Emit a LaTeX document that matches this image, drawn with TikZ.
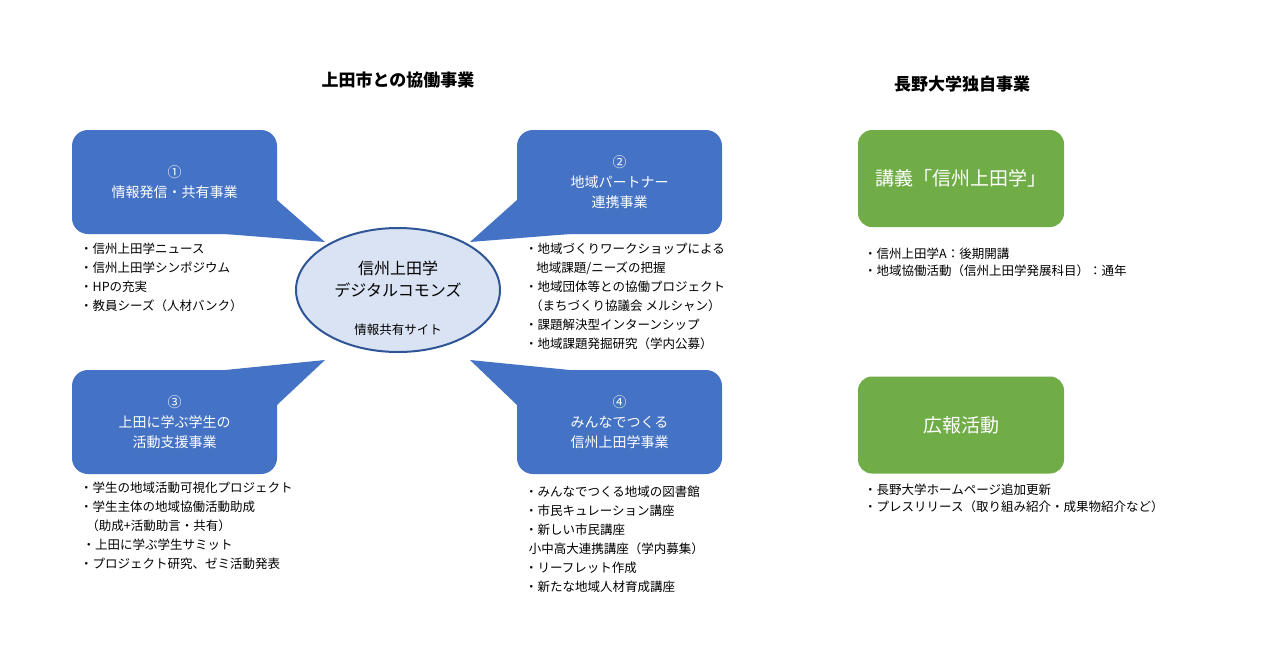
\documentclass[tikz,border=0pt]{standalone}
\usepackage{fontspec}
\setmainfont{Noto Sans CJK JP}
\usetikzlibrary{shapes.geometric}
\definecolor{bbox}{HTML}{4472C4}
\definecolor{gbox}{HTML}{70AD47}
\definecolor{ellf}{HTML}{DAE3F3}
\definecolor{elld}{HTML}{2F5597}
\tikzset{x=1pt,y=-1pt,
 bluebox/.style={fill=bbox,draw=none,rounded corners=16pt,minimum width=205pt,minimum height=104pt,text=white,align=center,font=\fontsize{14}{20}\selectfont},
 greenbox/.style={fill=gbox,draw=none,rounded corners=14pt,minimum width=206pt,minimum height=97pt,text=white,align=center,font=\fontsize{19}{24}\selectfont},
 lst/.style={anchor=north west,align=left,inner sep=0pt,font=\fontsize{12.5}{19}\selectfont},
 ttl/.style={font=\fontsize{17}{20}\bfseries\selectfont}}
\begin{document}
\begin{tikzpicture}
\useasboundingbox (0,0) rectangle (1280,670);
\fill[white] (0,0) rectangle (1280,670);
\node[ttl] (t1) at (398,80) {上田市との協働事業};
\node[ttl] (t2) at (962,84) {長野大学独自事業};
% tails
\fill[bbox] (225,234) -- (277,200) -- (325,242) -- cycle;
\fill[bbox] (517,200) -- (570,234) -- (470,242) -- cycle;
\fill[bbox] (225,370) -- (277,405) -- (325,360) -- cycle;
\fill[bbox] (517,405) -- (570,370) -- (470,360) -- cycle;
\node[bluebox] (b1) at (174.5,182) {①\\情報発信・共有事業};
\node[bluebox] (b2) at (619.5,182) {②\\地域パートナー\\連携事業};
\node[bluebox] (b3) at (174.5,422) {③\\上田に学ぶ学生の\\活動支援事業};
\node[bluebox] (b4) at (619.5,422) {④\\みんなでつくる\\信州上田学事業};
\node[ellipse,fill=ellf,draw=elld,line width=2pt,minimum width=204pt,minimum height=124pt] (c) at (398,290) {};
\node[font=\fontsize{16}{22}\selectfont,align=center] (c1) at (398,279) {信州上田学\\デジタルコモンズ};
\node[font=\fontsize{12.5}{16}\selectfont] (c2) at (398,330) {情報共有サイト};
\node[greenbox] (g1) at (961,178.5) {講義「信州上田学」};
\node[greenbox] (g2) at (961,425) {広報活動};
\node[lst] (l1) at (80,243) {・信州上田学ニュース\\・信州上田学シンポジウム\\・HPの充実\\・教員シーズ（人材バンク）};
\node[lst] (l2) at (525,243) {・地域づくりワークショップによる\\\hspace{0.9em}地域課題/ニーズの把握\\・地域団体等との協働プロジェクト\\\hspace{0.4em}（まちづくり協議会~メルシャン）\\・課題解決型インターンシップ\\・地域課題発掘研究（学内公募）};
\node[lst] (l3) at (80,482) {・学生の地域活動可視化プロジェクト\\・学生主体の地域協働活動助成\\\hspace{0.5em}（助成+活動助言・共有）\\\hspace{0.2em}・上田に学ぶ学生サミット\\・プロジェクト研究、ゼミ活動発表};
\node[lst] (l4) at (525,486) {・みんなでつくる地域の図書館\\・市民キュレーション講座\\・新しい市民講座\\\hspace{0.3em}小中高大連携講座（学内募集）\\・リーフレット作成\\・新たな地域人材育成講座};
\node[lst,font=\fontsize{12.5}{17}\selectfont] (l5) at (864,248) {・信州上田学A：後期開講\\・地域協働活動（信州上田学発展科目）：通年};
\node[lst,font=\fontsize{12.5}{17}\selectfont] (l6) at (864,484) {・長野大学ホームページ追加更新\\・プレスリリース（取り組み紹介・成果物紹介など）};
\end{tikzpicture}
\end{document}
